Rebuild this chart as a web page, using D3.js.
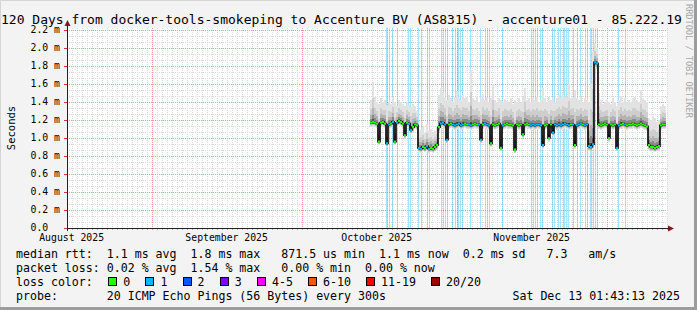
<!DOCTYPE html>
<html><head><meta charset="utf-8">
<script src="https://cdn.jsdelivr.net/npm/d3@7/dist/d3.min.js"></script>
<style>
html,body{margin:0;padding:0;background:#f3f3f3;overflow:hidden;}
svg{display:block;}
text{font-family:"DejaVu Sans Mono",monospace;white-space:pre;fill:#000;}
</style></head><body>
<svg id="c" width="697" height="310"></svg>
<script>
// ---------------- DATA ----------------
const title = "120 Days from docker-tools-smokeping to Accenture BV (AS8315) - accenture01 - 85.222.19";
const startTime = "2025-08-15T01:43:13Z";
const endTime = "2025-12-13T01:43:13Z";
const yTicks = [0, 0.2, 0.4, 0.6, 0.8, 1.0, 1.2, 1.4, 1.6, 1.8, 2.0, 2.2];
const yTickLabels = ["0.0", "0.2 m", "0.4 m", "0.6 m", "0.8 m", "1.0 m", "1.2 m", "1.4 m", "1.6 m", "1.8 m", "2.0 m", "2.2 m"];
const monthLabels = ["August 2025", "September 2025", "October 2025", "November 2025"];
const monthLabelDates = ["2025-08-16", "2025-09-16", "2025-10-16", "2025-11-16"];
const monthStarts = ["2025-09-01", "2025-10-01", "2025-11-01", "2025-12-01"];

// samples: first sample at day 60.6 after start, every 0.4 days
const sampleStartDay = 60.6;
const sampleStepDays = 0.4;
// median rtt (ms)
const medianRtt = [
 1.17,1.18,1.17,1.16,0.96,1.17,1.18,1.16,0.94,1.15,
 1.16,1.18,0.96,1.17,1.19,1.18,1.16,1.03,1.17,1.16,
 1.09,1.12,1.15,1.14,0.89,0.88,0.90,0.89,0.91,0.88,
 0.89,0.88,0.90,0.92,1.12,1.16,1.17,1.15,0.98,1.15,
 1.16,1.15,1.14,1.15,1.16,1.14,1.15,1.16,1.15,1.15,
 1.14,1.15,1.16,1.15,1.15,0.98,1.15,1.16,1.15,1.14,
 0.94,1.15,1.14,1.15,1.16,0.89,1.14,1.15,1.16,1.15,
 1.15,1.14,0.87,1.15,1.14,1.15,1.04,1.15,1.16,1.15,
 1.14,1.15,1.14,1.15,1.15,1.14,0.92,1.14,1.15,1.00,
 1.15,1.06,1.15,1.14,1.15,1.14,1.15,1.16,1.15,1.14,
 1.15,1.15,0.92,1.14,1.15,1.16,1.15,1.14,1.15,0.91,
 0.90,0.93,1.84,1.83,1.15,1.14,1.15,1.16,1.15,1.00,
 1.15,1.14,1.15,0.89,1.14,1.15,1.16,1.15,1.14,1.15,
 1.15,1.16,1.15,1.14,1.15,1.16,1.15,1.14,1.13,0.92,
 0.90,0.90,0.89,0.90,0.91,1.14,1.15,1.15
];
// highest ping (ms) per sample (top of the smoke)
const maxRtt = [
 1.42,1.62,1.45,1.40,1.38,1.44,1.40,1.42,1.36,1.40,
 1.38,1.45,1.40,1.36,1.42,1.40,1.38,1.35,1.40,1.37,
 1.34,1.38,1.36,1.30,1.08,1.10,1.12,1.06,1.15,1.08,
 1.10,1.06,1.08,1.12,1.48,1.55,1.50,1.46,1.42,1.48,
 1.44,1.40,1.46,1.52,1.44,1.42,1.48,1.44,1.46,1.40,
 1.75,1.44,1.42,1.46,1.40,1.44,1.48,1.42,1.45,1.40,
 1.44,1.60,1.42,1.40,1.44,1.42,1.40,1.43,1.41,1.40,
 1.44,1.38,1.42,1.40,1.44,1.40,1.46,1.56,1.42,1.44,
 1.40,1.44,1.42,1.45,1.40,1.42,1.56,1.44,1.40,1.45,
 1.42,1.46,1.40,1.44,1.48,1.44,1.50,1.46,1.45,1.60,
 1.44,1.46,1.53,1.44,1.42,1.45,1.40,1.44,1.42,1.40,
 1.60,1.95,2.05,2.00,1.50,1.42,1.38,1.40,1.42,1.40,
 1.38,1.44,1.40,1.36,1.42,1.47,1.40,1.44,1.40,1.42,
 1.40,1.44,1.46,1.42,1.40,1.53,1.44,1.42,1.40,1.22,
 1.20,1.24,1.22,1.18,1.20,1.35,1.38,1.36
];
// lowest ping (ms) per sample (bottom of the smoke)
const minRtt = [
 1.12,1.13,1.12,1.11,0.92,1.12,1.13,1.11,0.90,1.10,
 1.11,1.13,0.92,1.12,1.14,1.13,1.11,0.99,1.12,1.11,
 1.04,1.07,1.10,1.09,0.84,0.83,0.85,0.84,0.86,0.83,
 0.84,0.83,0.85,0.87,1.07,1.11,1.12,1.10,0.94,1.10,
 1.11,1.10,1.09,1.10,1.11,1.09,1.10,1.11,1.10,1.10,
 1.09,1.10,1.11,1.10,1.10,0.94,1.10,1.11,1.10,1.09,
 0.90,1.10,1.09,1.10,1.11,0.85,1.09,1.10,1.11,1.10,
 1.10,1.09,0.83,1.10,1.09,1.10,1.00,1.10,1.11,1.10,
 1.09,1.10,1.09,1.10,1.10,1.09,0.88,1.09,1.10,0.96,
 1.10,1.02,1.10,1.09,1.10,1.09,1.10,1.11,1.10,1.09,
 1.10,1.10,0.88,1.09,1.10,1.11,1.10,1.09,1.10,0.86,
 0.85,0.88,1.78,1.77,1.10,1.09,1.10,1.11,1.10,0.96,
 1.10,1.09,1.10,0.85,1.09,1.10,1.11,1.10,1.09,1.10,
 1.10,1.11,1.10,1.09,1.10,1.11,1.10,1.09,1.08,0.87,
 0.85,0.85,0.84,0.85,0.86,1.09,1.10,1.10
];
// loss events: days after start, and lost pings (of 20)
const lossDays = [63.8,64.0,64.4,65.0,66.0,68.2,68.6,70.2,70.8,72.0,72.4,74.8,75.2,75.6,76.0,77.0,77.6,78.0,78.2,78.6,79.0,
  80.6,82.6,83.6,84.0,84.4,87.0,92.8,93.2,93.6,94.0,94.6,95.0,97.0,97.4,98.2,98.6,99.2,99.4,99.8,100.2,101.2,102.0,102.6,
  103.6,104.0,104.6,104.8,105.2,105.6,106.0,110.2,111.6];
const lossCounts = lossDays.map(() => 1);

const lossColorLabels = ["0", "1", "2", "3", "4-5", "6-10", "11-19", "20/20"];
const lossColors = ["#26ff00", "#00b8ff", "#0059ff", "#7e00ff", "#ff00ff", "#ff5500", "#ff0000", "#a10000"];
const legendRows = [
  "median rtt:  1.1 ms avg  1.8 ms max   871.5 us min  1.1 ms now  0.2 ms sd   7.3   am/s",
  "packet loss: 0.02 % avg  1.54 % max   0.00 % min  0.00 % now",
  "loss color:",
  "probe:       20 ICMP Echo Pings (56 Bytes) every 300s"
];
const timestamp = "Sat Dec 13 01:43:13 2025";
const yAxisTitle = "Seconds";
const watermark = "RRDTOOL / TOBI OETIKER";

// ---------------- DRAW ----------------
const W = 697, H = 310;
const svg = d3.select("#c");
const DAY = 86400000;
const t0 = new Date(startTime), t1 = new Date(endTime);
const x = d3.scaleUtc().domain([t0, t1]).range([67, 667]);
const y = d3.scaleLinear().domain([0, 2.2222]).range([228, 28]);
const dayDate = d => new Date(t0.getTime() + d * DAY);

// frame
svg.append("rect").attr("width", W).attr("height", H).attr("fill", "#f3f3f3");
svg.append("line").attr("x1", 0).attr("x2", W).attr("y1", 0.5).attr("y2", 0.5).attr("stroke", "#d6d6d6");
svg.append("line").attr("x1", 0.5).attr("x2", 0.5).attr("y1", 0).attr("y2", H).attr("stroke", "#d6d6d6");
svg.append("rect").attr("x", 0).attr("y", H - 3).attr("width", W).attr("height", 3).attr("fill", "#9c9c9c");
svg.append("rect").attr("x", W - 3).attr("y", 0).attr("width", 3).attr("height", H).attr("fill", "#9c9c9c");

// plot background
svg.append("rect").attr("x", x.range()[0]).attr("y", y.range()[1]).attr("width", x.range()[1] - x.range()[0])
  .attr("height", y.range()[0] - y.range()[1]).attr("fill", "#ffffff");

const grid = svg.append("g").attr("shape-rendering", "crispEdges");
// minor vertical grid: daily
const days = d3.utcDay.range(d3.utcDay.ceil(t0), t1);
grid.selectAll(".vmin").data(days).join("line")
  .attr("x1", d => Math.round(x(d)) + 0.5).attr("x2", d => Math.round(x(d)) + 0.5)
  .attr("y1", y.range()[1]).attr("y2", y.range()[0])
  .attr("stroke", "#d9d9d9").attr("stroke-dasharray", "1,1");
// minor horizontal grid
const yMinor = d3.range(0, 2.2222, 0.2 / 3);
grid.selectAll(".hmin").data(yMinor).join("line")
  .attr("x1", x.range()[0]).attr("x2", x.range()[1])
  .attr("y1", d => Math.round(y(d)) + 0.5).attr("y2", d => Math.round(y(d)) + 0.5)
  .attr("stroke", "#d9d9d9").attr("stroke-dasharray", "1,1");
// major grid
grid.selectAll(".vmaj").data(monthStarts.map(s => new Date(s + "T00:00:00Z"))).join("line")
  .attr("x1", d => Math.round(x(d)) + 0.5).attr("x2", d => Math.round(x(d)) + 0.5)
  .attr("y1", y.range()[1]).attr("y2", y.range()[0])
  .attr("stroke", "#f19a9a").attr("stroke-dasharray", "1,1");
grid.selectAll(".hmaj").data(yTicks.slice(1)).join("line")
  .attr("x1", x.range()[0]).attr("x2", x.range()[1])
  .attr("y1", d => Math.round(y(d)) + 0.5).attr("y2", d => Math.round(y(d)) + 0.5)
  .attr("stroke", "#f19a9a").attr("stroke-dasharray", "1,1");

// loss bars
const lossG = svg.append("g").attr("shape-rendering", "crispEdges");
lossG.selectAll("rect").data(lossDays.map((d, i) => ({ d, c: lossCounts[i] }))).join("rect")
  .attr("x", d => Math.round(x(dayDate(d.d))))
  .attr("width", d => Math.max(1, Math.round(x(dayDate(d.d + 0.2)) - x(dayDate(d.d)))))
  .attr("y", y.range()[1]).attr("height", y.range()[0] - y.range()[1])
  .attr("fill", d => lossColors[d.c]).attr("opacity", 0.36);

// samples
const samples = medianRtt.map((m, i) => {
  const d0 = sampleStartDay + i * sampleStepDays;
  const x0 = x(dayDate(d0)), x1 = x(dayDate(d0 + sampleStepDays));
  const lossHere = lossDays.reduce((acc, ld, k) => (ld >= d0 && ld < d0 + sampleStepDays ? Math.max(acc, lossCounts[k]) : acc), 0);
  return { m, hi: maxRtt[i], lo: minRtt[i], x0, x1, loss: lossHere };
});

// smoke layers (lightest to darkest)
const layers = [
  { up: 1.0, dn: 1.0, c: "#e2e2e2" },
  { up: 0.6, dn: 0.8, c: "#cecece" },
  { up: 0.35, dn: 0.6, c: "#b2b2b2" },
  { up: 0.18, dn: 0.4, c: "#8a8a8a" },
  { up: 0.07, dn: 0.25, c: "#4e4e4e" }
];
const smoke = svg.append("g").attr("shape-rendering", "crispEdges");
layers.forEach(L => {
  smoke.append("g").selectAll("rect").data(samples).join("rect")
    .attr("x", s => s.x0).attr("width", s => s.x1 - s.x0)
    .attr("y", s => y(s.m + (s.hi - s.m) * L.up))
    .attr("height", s => y(s.m - (s.m - s.lo) * L.dn) - y(s.m + (s.hi - s.m) * L.up))
    .attr("fill", L.c);
});

// median: vertical transitions dark, horizontal parts in loss colour
const med = svg.append("g");
const stepLine = d3.line().x(d => d[0]).y(d => d[1]);
const pts = [];
samples.forEach(s => { pts.push([s.x0, y(s.m)]); pts.push([s.x1, y(s.m)]); });
med.append("path").attr("d", stepLine(pts)).attr("fill", "none").attr("stroke", "#000").attr("stroke-width", 1.6);
med.selectAll("line").data(samples).join("line")
  .attr("x1", s => s.x0).attr("x2", s => s.x1)
  .attr("y1", s => y(s.m)).attr("y2", s => y(s.m))
  .attr("stroke", s => lossColors[s.loss]).attr("stroke-width", 2.2);

// axes
const ax = svg.append("g").attr("shape-rendering", "crispEdges");
ax.append("line").attr("x1", 64).attr("x2", 670).attr("y1", 228.5).attr("y2", 228.5).attr("stroke", "#222");
ax.append("line").attr("x1", 67.5).attr("x2", 67.5).attr("y1", 231).attr("y2", 26).attr("stroke", "#222");
svg.append("path").attr("d", "M668,225.5 L674,228.5 L668,231.5 Z").attr("fill", "#7f1a1a");
svg.append("path").attr("d", "M64.5,26 L67.5,20 L70.5,26 Z").attr("fill", "#7f1a1a");
// y ticks
ax.selectAll(".yt").data(yTicks).join("line")
  .attr("x1", 64).attr("x2", 67).attr("y1", d => Math.round(y(d)) + 0.5).attr("y2", d => Math.round(y(d)) + 0.5)
  .attr("stroke", "#c04040");
// x ticks (daily)
ax.selectAll(".xt").data(days).join("line")
  .attr("x1", d => Math.round(x(d)) + 0.5).attr("x2", d => Math.round(x(d)) + 0.5).attr("y1", 229).attr("y2", 230)
  .attr("stroke", "#aaa");

// y labels
svg.append("g").selectAll("text").data(yTicks).join("text")
  .attr("x", 30.5).attr("y", d => y(d) + 3.4).attr("font-size", "9.8px")
  .text((d, i) => yTickLabels[i]);
// x labels
svg.append("g").selectAll("text").data(monthLabels).join("text")
  .attr("x", (d, i) => x(new Date(monthLabelDates[i] + "T00:00:00Z")))
  .attr("y", 241).attr("font-size", "9.8px").attr("text-anchor", "middle").text(d => d);

// y axis title
svg.append("text").attr("transform", "translate(15,128) rotate(-90)").attr("text-anchor", "middle")
  .attr("font-size", "10.5px").text(yAxisTitle);

// title
svg.append("text").attr("x", 1).attr("y", 23.5).attr("font-size", "13px").text(title);

// watermark
svg.append("text").attr("transform", "translate(686,4) rotate(90)").attr("font-size", "8.6px")
  .style("fill", "#a8a8a8").text(watermark);

// legend
const LX = 16, CW = 6.96, LFS = "11.6px";
const rowY = [258, 272, 286, 300];
legendRows.forEach((r, i) => {
  svg.append("text").attr("x", LX).attr("y", rowY[i]).attr("font-size", LFS).text(r);
});
let cur = 108.3;
lossColorLabels.forEach((lab, i) => {
  svg.append("rect").attr("x", Math.round(cur) + 0.5).attr("y", 277.5).attr("width", 8).attr("height", 8)
    .attr("fill", lossColors[i]).attr("stroke", "#000").attr("shape-rendering", "crispEdges");
  svg.append("text").attr("x", cur + 15).attr("y", rowY[2]).attr("font-size", LFS).text(lab);
  cur += 15 + lab.length * CW + 15.2;
});
svg.append("text").attr("x", 680).attr("y", rowY[3]).attr("font-size", LFS).attr("text-anchor", "end").text(timestamp);
</script>
</body></html>
